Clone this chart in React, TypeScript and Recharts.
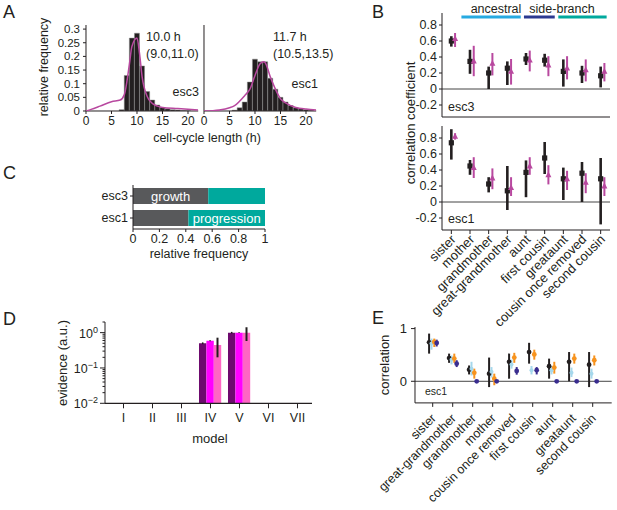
import React from "react";
import {
  ComposedChart,
  LineChart,
  ScatterChart,
  BarChart,
  Bar,
  Line,
  Scatter,
  XAxis,
  YAxis,
  ErrorBar,
  ReferenceLine,
  LabelList,
} from "recharts";

const FONT = '"Liberation Sans", Arial, Helvetica, sans-serif';
const INK = "#231f20";
const PLUM = "#b8489f";
const TEAL = "#00a99d";
const GREY = "#58595b";

// ---- A: cell-cycle length histograms (bin centres, h) ----
const BINS = [6, 7, 8, 9, 10, 11, 12, 13, 14, 15, 16, 17, 18, 19, 20, 21];
const ESC3_FREQ = [0, 0.005, 0.13, 0.267, 0.285, 0.165, 0.071, 0.04, 0.022, 0.013, 0.008, 0.005, 0.004, 0.002, 0.001, 0];
const ESC1_FREQ = [0.003, 0.012, 0.033, 0.106, 0.19, 0.18, 0.18, 0.12, 0.08, 0.05, 0.033, 0.02, 0.012, 0.008, 0.005, 0.003];
const ESC3_FIT_X = [0, 1, 2.75, 5, 6.7, 7.5, 8.5, 9, 10, 10.5, 11, 12, 13, 14, 15, 18, 22];
const ESC3_FIT_Y = [0, 0.006, 0.018, 0.034, 0.04, 0.059, 0.17, 0.236, 0.267, 0.21, 0.126, 0.053, 0.028, 0.018, 0.013, 0.009, 0.004];
const ESC1_FIT_X = [0, 3, 5, 6, 8, 9, 10, 11, 11.7, 12, 13, 14, 15, 16, 18, 20, 22];
const ESC1_FIT_Y = [0, 0.004, 0.012, 0.02, 0.057, 0.08, 0.13, 0.173, 0.18, 0.177, 0.125, 0.08, 0.045, 0.03, 0.013, 0.007, 0.004];
const A_XTICKS = [0, 5, 10, 15, 20];
const A_YTICKS = [0, 0.05, 0.1, 0.15, 0.2, 0.25, 0.3];

// ---- B: correlation coefficients, data (black) vs model (plum) ----
const B_NAMES = ["sister", "mother", "grandmother", "great-grandmother", "aunt", "first cousin", "greataunt", "cousin once removed", "second cousin"];
const ESC3_DATA = [0.6, 0.345, 0.2, 0.26, 0.375, 0.36, 0.22, 0.2, 0.165];
const ESC3_DATA_LO = [0.53, 0.19, 0.0, 0.05, 0.3, 0.28, 0.03, 0.075, 0.02];
const ESC3_DATA_HI = [0.66, 0.49, 0.28, 0.345, 0.45, 0.44, 0.37, 0.29, 0.28];
const ESC3_MODEL = [0.63, 0.35, 0.32, 0.22, 0.36, 0.3, 0.26, 0.24, 0.22];
const ESC3_MODEL_LO = [0.525, 0.16, 0.17, 0.055, 0.22, 0.16, 0.12, 0.095, 0.095];
const ESC3_MODEL_HI = [0.7, 0.54, 0.45, 0.375, 0.48, 0.41, 0.41, 0.37, 0.325];
const ESC1_DATA = [0.74, 0.45, 0.225, 0.14, 0.37, 0.55, 0.29, 0.36, 0.29];
const ESC1_DATA_LO = [0.53, 0.34, 0.12, -0.1, 0.06, 0.35, 0.025, 0.0, -0.28];
const ESC1_DATA_HI = [0.91, 0.525, 0.31, 0.45, 0.52, 0.75, 0.43, 0.5, 0.55];
const ESC1_MODEL = [0.82, 0.43, 0.3, 0.18, 0.45, 0.34, 0.29, 0.245, 0.2];
const ESC1_MODEL_LO = [0.78, 0.3, 0.16, 0.075, 0.34, 0.22, 0.15, 0.11, 0.075];
const ESC1_MODEL_HI = [0.86, 0.56, 0.42, 0.31, 0.56, 0.46, 0.39, 0.36, 0.31];
const B_YTICKS = [-0.2, 0, 0.2, 0.4, 0.6, 0.8];
const GROUP_NAMES = ["ancestral", "side-branch", ""];
const GROUP_SPANS = [[0.54, 3.72], [3.89, 5.54], [5.73, 8.32]];
const GROUP_COLORS = ["#27aae1", "#2b3990", TEAL];

// ---- C: growth vs progression ----
const C_LINES = ["esc3", "esc1"];
const C_GROWTH = [0.57, 0.42];
const C_PROGRESSION = [0.43, 0.58];
const C_TICKS = [0, 0.2, 0.4, 0.6, 0.8, 1];

// ---- D: model evidence (log scale) ----
const D_MODELS = ["I", "II", "III", "IV", "V", "VI", "VII"];
const D_DARK = [null, null, null, 0.5, 1.0, null, null];
const D_DARK_ERR = [null, null, null, 0.03, 0.05, null, null];
const D_MAG = [null, null, null, 0.59, 1.0, null, null];
const D_MAG_ERR = [null, null, null, 0.02, 0.02, null, null];
const D_PINK = [null, null, null, 0.45, 1.0, null, null];
const D_PINK_LO = [null, null, null, 0.2, 0.58, null, null];
const D_PINK_HI = [null, null, null, 0.72, 1.42, null, null];
const D_TICKS = [0.01, 0.02, 0.03, 0.04, 0.05, 0.06, 0.07, 0.08, 0.09, 0.1, 0.2, 0.3, 0.4, 0.5, 0.6, 0.7, 0.8, 0.9, 1, 2];

// ---- E: esc1 correlations, data and three models ----
const E_NAMES = ["sister", "great-grandmother", "grandmother", "mother", "cousin once removed", "first cousin", "aunt", "greataunt", "second cousin"];
const E_BLACK = [0.74, 0.44, 0.22, 0.145, 0.37, 0.555, 0.285, 0.37, 0.315];
const E_BLACK_LO = [0.525, 0.35, 0.13, -0.11, 0.05, 0.335, 0.05, 0.0, -0.11];
const E_BLACK_HI = [0.905, 0.525, 0.3, 0.45, 0.525, 0.73, 0.43, 0.555, 0.555];
const E_LBLUE = [0.715, 0.41, 0.24, 0.18, 0.32, 0.21, 0.21, 0.16, 0.145];
const E_LBLUE_LO = [0.6, 0.32, 0.11, 0.07, 0.24, 0.13, 0.13, 0.08, 0.05];
const E_LBLUE_HI = [0.81, 0.49, 0.37, 0.27, 0.41, 0.29, 0.285, 0.26, 0.24];
const E_ORANGE = [0.746, 0.43, 0.16, 0.05, 0.45, 0.51, 0.26, 0.43, 0.4];
const E_ORANGE_LO = [0.65, 0.35, 0.05, -0.075, 0.35, 0.41, 0.145, 0.335, 0.3];
const E_ORANGE_HI = [0.81, 0.525, 0.24, 0.145, 0.54, 0.6, 0.37, 0.525, 0.49];
const E_NAVY = [0.727, 0.335, 0, 0, 0.195, 0.21, 0, 0, 0];
const E_NAVY_LO = [0.66, 0.27, 0, 0, 0.125, 0.13, 0, 0, 0];
const E_NAVY_HI = [0.79, 0.4, 0, 0, 0.27, 0.27, 0, 0, 0];

type Box = { x: number; y: number; w: number; h: number };
const A_LEFT: Box = { x: 86, y: 25, w: 112.2, h: 86 };
const A_RIGHT: Box = { x: 204, y: 25, w: 112.2, h: 86 };
const B_TOP: Box = { x: 442, y: 13, w: 168, h: 104 };
const B_BOT: Box = { x: 442, y: 126, w: 168, h: 104 };
const C_BOX: Box = { x: 133, y: 185, w: 132, h: 44 };
const D_BOX: Box = { x: 105, y: 322, w: 207, h: 81.3 };
const E_BOX: Box = { x: 415, y: 326.7, w: 196.7, h: 75.9 };

const NO_MARGIN = { top: 0, right: 0, bottom: 0, left: 0 };
const axisStyle = { stroke: INK };

function Place({ box, yw = 0, xh = 0, children }: { box: Box; yw?: number; xh?: number; children: React.ReactNode }) {
  return (
    <div style={{ position: "absolute", left: box.x - yw, top: box.y, width: box.w + yw, height: box.h + xh }}>
      {children}
    </div>
  );
}

function Txt({ x, y, size = 13, anchor = "middle", rotate = 0, color = INK, children }: any) {
  const tx = anchor === "start" ? "0" : anchor === "end" ? "-100%" : "-50%";
  return (
    <div
      style={{
        position: "absolute",
        left: x,
        top: y,
        transform: `translate(${tx},-50%) rotate(${rotate}deg)`,
        fontSize: size,
        lineHeight: 1,
        whiteSpace: "nowrap",
        color,
      }}
    >
      {children}
    </div>
  );
}

const pts = (vals: number[], lo: number[], hi: number[], dx: number) =>
  vals.map((v, i) => ({ x: i + dx, y: v, e: [v - lo[i], hi[i] - v] }));

const Square = (p: any) => <rect x={p.cx - 2.6} y={p.cy - 2.6} width={5.2} height={5.2} fill={INK} />;
const Tri = (p: any) => (
  <path d={`M${p.cx},${p.cy - 3.4} L${p.cx + 3},${p.cy + 2.4} L${p.cx - 3},${p.cy + 2.4} Z`} fill={PLUM} />
);
const dot = (color: string, r: number) => (p: any) => <circle cx={p.cx} cy={p.cy} r={r} fill={color} />;

function SlantTick(props: any) {
  const { x, y, payload, names, size, dx, dy } = props;
  return (
    <text
      transform={`translate(${x + dx},${y + dy}) rotate(-45)`}
      textAnchor="end"
      dy="0.35em"
      fontSize={size}
      fill={INK}
    >
      {names[Math.round(payload.value)]}
    </text>
  );
}

function LogTick(props: any) {
  const { x, y, payload } = props;
  const e = Math.log10(payload.value);
  const major = Math.abs(e - Math.round(e)) < 1e-6;
  const len = major ? 5 : 2.5;
  const ex = Math.round(e);
  return (
    <g>
      <line x1={x - len} x2={x} y1={y} y2={y} stroke={INK} />
      {major && (
        <text x={x - 7} y={y} dy="0.4em" textAnchor="end" fontSize={12.5} fill={INK}>
          10
          <tspan dy={-5} fontSize={9}>
            {ex === 0 ? "0" : "\u2212" + Math.abs(ex)}
          </tspan>
        </text>
      )}
    </g>
  );
}

function Histogram({ box, freq, fx, fy, labels }: { box: Box; freq: number[]; fx: number[]; fy: number[]; labels: boolean }) {
  const yw = labels ? 40 : 8;
  const rows = BINS.map((b, i) => ({ x: b, f: freq[i] }));
  const fit = fx.map((x, i) => ({ x, y: fy[i] }));
  return (
    <>
      <Place box={box} yw={yw} xh={30}>
        <ComposedChart width={box.w + yw} height={box.h + 30} data={rows} margin={NO_MARGIN}>
          <XAxis
            type="number"
            dataKey="x"
            domain={[0, 22]}
            ticks={A_XTICKS}
            interval={0}
            allowDataOverflow
            height={30}
            tickSize={3}
            tickMargin={2}
            axisLine={axisStyle}
            tickLine={axisStyle}
            tick={{ fontSize: 12, fill: INK }}
          />
          <YAxis
            type="number"
            domain={[0, 0.315]}
            ticks={A_YTICKS}
            interval={0}
            allowDataOverflow
            width={yw}
            tickSize={3}
            tickMargin={3}
            axisLine={axisStyle}
            tickLine={axisStyle}
            tick={labels ? { fontSize: 11.5, fill: INK } : false}
            tickFormatter={(v: number) => String(v)}
          />
          <Bar dataKey="f" barSize={5} fill={INK} stroke="#8d8d8d" strokeWidth={0.5} isAnimationActive={false} />
        </ComposedChart>
      </Place>
      <Place box={box}>
        <LineChart width={box.w} height={box.h} data={fit} margin={NO_MARGIN}>
          <XAxis hide type="number" dataKey="x" domain={[0, 22]} allowDataOverflow />
          <YAxis hide type="number" domain={[0, 0.315]} allowDataOverflow />
          <Line type="monotone" dataKey="y" stroke={PLUM} strokeWidth={1.5} dot={false} isAnimationActive={false} />
        </LineChart>
      </Place>
    </>
  );
}

function CorrPanel({ box, data, model, names, header }: { box: Box; data: any[]; model: any[]; names: boolean; header: boolean }) {
  const xh = names ? 90 : 6;
  return (
    <Place box={box} yw={40} xh={xh}>
      <ScatterChart width={box.w + 40} height={box.h + xh} margin={NO_MARGIN}>
        <XAxis
          type="number"
          dataKey="x"
          domain={[-0.5, 8.5]}
          ticks={[0, 1, 2, 3, 4, 5, 6, 7, 8]}
          interval={0}
          allowDataOverflow
          height={xh}
          tickSize={4}
          tickMargin={0}
          axisLine={axisStyle}
          tickLine={axisStyle}
          tick={names ? (p: any) => <SlantTick {...p} names={B_NAMES} size={13} dx={2} dy={3} /> : false}
        />
        <YAxis
          type="number"
          dataKey="y"
          domain={[-0.35, 0.95]}
          ticks={B_YTICKS}
          interval={0}
          allowDataOverflow
          width={40}
          tickSize={3}
          tickMargin={2}
          axisLine={axisStyle}
          tickLine={axisStyle}
          tick={{ fontSize: 12.5, fill: INK }}
          tickFormatter={(v: number) => (v === 0 ? "0" : v.toFixed(1))}
        />
        <ReferenceLine y={0} stroke="#444" strokeWidth={1} />
        {header &&
          GROUP_SPANS.map((s, i) => (
            <ReferenceLine
              key={GROUP_COLORS[i]}
              segment={[{ x: s[0], y: 0.9 }, { x: s[1], y: 0.9 }]}
              stroke={GROUP_COLORS[i]}
              strokeWidth={3}
            />
          ))}
        <Scatter data={data} shape={Square} isAnimationActive={false}>
          <ErrorBar dataKey="e" direction="y" width={0} stroke={INK} strokeWidth={2.6} isAnimationActive={false} />
        </Scatter>
        <Scatter data={model} shape={Tri} isAnimationActive={false}>
          <ErrorBar dataKey="e" direction="y" width={0} stroke={PLUM} strokeWidth={2} isAnimationActive={false} />
        </Scatter>
      </ScatterChart>
    </Place>
  );
}

export default function App() {
  const cRows = C_LINES.map((name, i) => ({
    name,
    g: C_GROWTH[i],
    p: C_PROGRESSION[i],
    gl: i === 0 ? "growth" : "",
    pl: i === 1 ? "progression" : "",
  }));
  const dRows = D_MODELS.map((m, i) => ({
    m,
    a: D_DARK[i],
    b: D_MAG[i],
    c: D_PINK[i],
    ea: D_DARK_ERR[i],
    eb: D_MAG_ERR[i],
    ec: D_PINK[i] == null ? null : [D_PINK[i]! - D_PINK_LO[i]!, D_PINK_HI[i]! - D_PINK[i]!],
  }));
  const eSeries = [
    { pts: pts(E_BLACK, E_BLACK_LO, E_BLACK_HI, -0.18), color: INK, r: 2.4 },
    { pts: pts(E_LBLUE, E_LBLUE_LO, E_LBLUE_HI, -0.06), color: "#a6d8ec", r: 2 },
    { pts: pts(E_ORANGE, E_ORANGE_LO, E_ORANGE_HI, 0.08), color: "#f7931e", r: 2.4 },
    { pts: pts(E_NAVY, E_NAVY_LO, E_NAVY_HI, 0.2), color: "#3a2d8f", r: 2.4 },
  ];

  return (
    <div
      style={{
        position: "absolute",
        left: 0,
        top: 0,
        width: 617,
        height: 510,
        background: "#fff",
        fontFamily: FONT,
        color: INK,
        overflow: "hidden",
      }}
    >
      <style>{".recharts-surface{overflow:visible}"}</style>

      {/* A */}
      <Txt x={9} y={12} size={18}>A</Txt>
      <Histogram box={A_LEFT} freq={ESC3_FREQ} fx={ESC3_FIT_X} fy={ESC3_FIT_Y} labels />
      <Histogram box={A_RIGHT} freq={ESC1_FREQ} fx={ESC1_FIT_X} fy={ESC1_FIT_Y} labels={false} />
      <Txt x={44} y={67} rotate={-90} size={12.5}>relative frequency</Txt>
      <Txt x={207} y={138} size={12.5}>cell-cycle length (h)</Txt>
      <Txt x={146} y={37} anchor="start" size={12.5}>10.0 h</Txt>
      <Txt x={146} y={54} anchor="start" size={12.5}>(9.0,11.0)</Txt>
      <Txt x={199} y={92} anchor="end" size={12.5}>esc3</Txt>
      <Txt x={273} y={37} anchor="start" size={12.5}>11.7 h</Txt>
      <Txt x={273} y={54} anchor="start" size={12.5}>(10.5,13.5)</Txt>
      <Txt x={318} y={84} anchor="end" size={12.5}>esc1</Txt>

      {/* B */}
      <Txt x={378} y={12} size={18}>B</Txt>
      <CorrPanel
        box={B_TOP}
        data={pts(ESC3_DATA, ESC3_DATA_LO, ESC3_DATA_HI, 0)}
        model={pts(ESC3_MODEL, ESC3_MODEL_LO, ESC3_MODEL_HI, 0.2)}
        names={false}
        header
      />
      <CorrPanel
        box={B_BOT}
        data={pts(ESC1_DATA, ESC1_DATA_LO, ESC1_DATA_HI, 0)}
        model={pts(ESC1_MODEL, ESC1_MODEL_LO, ESC1_MODEL_HI, 0.2)}
        names
        header={false}
      />
      <Txt x={496} y={9} size={12.5}>{GROUP_NAMES[0]}</Txt>
      <Txt x={562} y={9} size={12.5}>{GROUP_NAMES[1]}</Txt>
      <Txt x={448} y={107} anchor="start" size={12.5}>esc3</Txt>
      <Txt x={448} y={219} anchor="start" size={12.5}>esc1</Txt>
      <Txt x={410} y={123} rotate={-90} size={13}>correlation coefficient</Txt>

      {/* C */}
      <Txt x={9.5} y={173} size={18}>C</Txt>
      <Place box={C_BOX} yw={40} xh={22}>
        <BarChart width={C_BOX.w + 40} height={C_BOX.h + 22} data={cRows} layout="vertical" margin={NO_MARGIN}>
          <XAxis
            type="number"
            domain={[0, 1]}
            ticks={C_TICKS}
            interval={0}
            allowDataOverflow
            height={22}
            tickSize={3}
            tickMargin={2}
            axisLine={axisStyle}
            tickLine={axisStyle}
            tick={{ fontSize: 12.5, fill: INK }}
            tickFormatter={(v: number) => (v === 0 || v === 1 ? String(v) : v.toFixed(1))}
          />
          <YAxis
            type="category"
            dataKey="name"
            width={40}
            tickSize={3}
            tickMargin={2}
            axisLine={axisStyle}
            tickLine={axisStyle}
            tick={{ fontSize: 12.5, fill: INK }}
          />
          <Bar dataKey="g" stackId="s" fill={GREY} barSize={16} isAnimationActive={false}>
            <LabelList dataKey="gl" position="center" fill="#fff" fontSize={13} />
          </Bar>
          <Bar dataKey="p" stackId="s" fill={TEAL} barSize={16} isAnimationActive={false}>
            <LabelList dataKey="pl" position="center" fill="#fff" fontSize={13} />
          </Bar>
        </BarChart>
      </Place>
      <Txt x={199} y={254} size={12.5}>relative frequency</Txt>

      {/* D */}
      <Txt x={9.5} y={319} size={18}>D</Txt>
      <Place box={D_BOX} yw={45} xh={30}>
        <BarChart width={D_BOX.w + 45} height={D_BOX.h + 30} data={dRows} margin={NO_MARGIN} barGap={0}>
          <XAxis
            dataKey="m"
            height={30}
            interval={0}
            padding={{ left: 4, right: 0 }}
            tickSize={5}
            tickMargin={5}
            axisLine={{ stroke: INK, strokeWidth: 1.3 }}
            tickLine={axisStyle}
            tick={{ fontSize: 12.5, fill: INK }}
          />
          <YAxis
            type="number"
            scale="log"
            domain={[0.01, 2]}
            ticks={D_TICKS}
            interval={0}
            allowDataOverflow
            width={45}
            tickSize={0}
            tickMargin={0}
            tickLine={false}
            axisLine={axisStyle}
            tick={LogTick}
          />
          <Bar dataKey="a" fill="#6d0a6e" barSize={7.4} isAnimationActive={false}>
            <ErrorBar dataKey="ea" width={0} stroke={INK} strokeWidth={1.5} isAnimationActive={false} />
          </Bar>
          <Bar dataKey="b" fill="#ff00ff" barSize={7.4} isAnimationActive={false}>
            <ErrorBar dataKey="eb" width={0} stroke={INK} strokeWidth={1.5} isAnimationActive={false} />
          </Bar>
          <Bar dataKey="c" fill="#ff66c4" barSize={7.4} isAnimationActive={false}>
            <ErrorBar dataKey="ec" width={0} stroke={INK} strokeWidth={2} isAnimationActive={false} />
          </Bar>
        </BarChart>
      </Place>
      <Txt x={62} y={363} rotate={-90} size={13}>evidence (a.u.)</Txt>
      <Txt x={210} y={438} size={13}>model</Txt>

      {/* E */}
      <Txt x={378} y={318} size={18}>E</Txt>
      <Place box={E_BOX} yw={30} xh={100}>
        <ScatterChart width={E_BOX.w + 30} height={E_BOX.h + 100} margin={NO_MARGIN}>
          <XAxis
            type="number"
            dataKey="x"
            domain={[-0.885, 8.95]}
            ticks={[0, 1, 2, 3, 4, 5, 6, 7, 8]}
            interval={0}
            allowDataOverflow
            height={100}
            tickSize={4}
            tickMargin={0}
            axisLine={axisStyle}
            tickLine={axisStyle}
            tick={(p: any) => <SlantTick {...p} names={E_NAMES} size={12.5} dx={1} dy={9} />}
          />
          <YAxis
            type="number"
            dataKey="y"
            domain={[-0.41, 1.03]}
            ticks={[0, 1]}
            interval={0}
            allowDataOverflow
            width={30}
            tickSize={4}
            tickMargin={4}
            axisLine={axisStyle}
            tickLine={axisStyle}
            tick={{ fontSize: 13, fill: INK }}
          />
          <ReferenceLine y={0} stroke="#444" strokeWidth={1} />
          {eSeries.map((s) => (
            <Scatter key={s.color} data={s.pts} shape={dot(s.color, s.r)} isAnimationActive={false}>
              <ErrorBar dataKey="e" direction="y" width={0} stroke={s.color} strokeWidth={2} isAnimationActive={false} />
            </Scatter>
          ))}
        </ScatterChart>
      </Place>
      <Txt x={384} y={365} rotate={-90} size={13}>correlation</Txt>
      <Txt x={425} y={391} anchor="start" size={10.5}>esc1</Txt>
    </div>
  );
}
